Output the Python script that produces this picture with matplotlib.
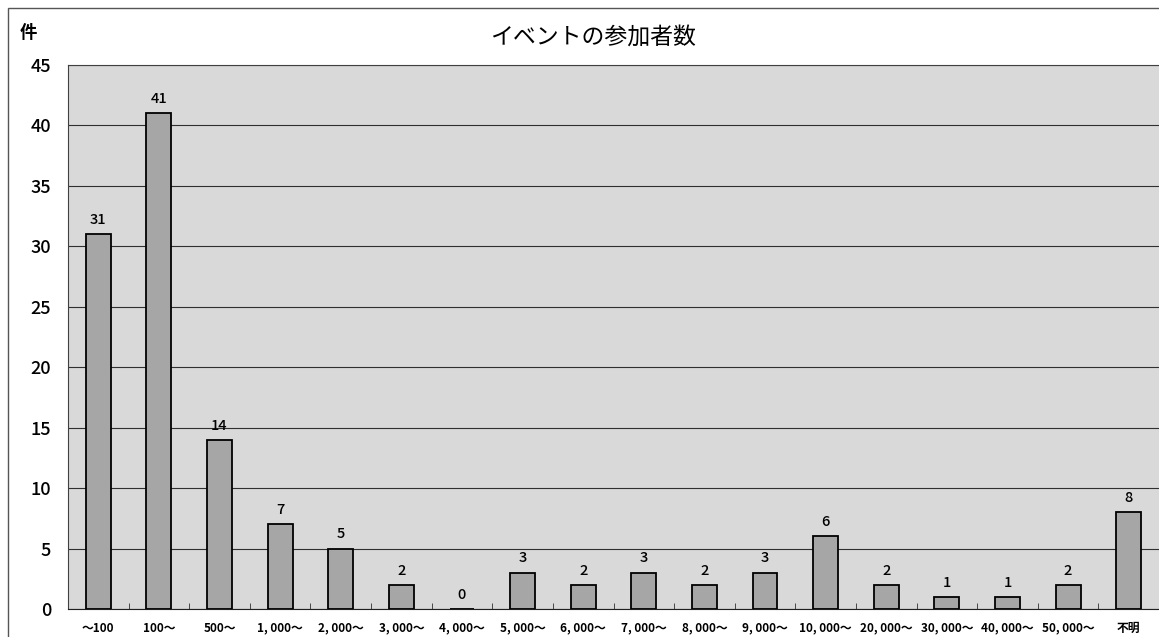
import matplotlib
matplotlib.use("Agg")
import matplotlib.pyplot as plt
from matplotlib.patches import Rectangle

plt.rcParams['font.family'] = ['Noto Sans CJK JP', 'DejaVu Sans']

# 参加者数の区分と件数
categories = ["～100", "100～", "500～", "1, 000～", "2, 000～", "3, 000～", "4, 000～",
              "5, 000～", "6, 000～", "7, 000～", "8, 000～", "9, 000～", "10, 000～",
              "20, 000～", "30, 000～", "40, 000～", "50, 000～", "不明"]
counts = [31, 41, 14, 7, 5, 2, 0, 3, 2, 3, 2, 3, 6, 2, 1, 1, 2, 8]
yticks = [0, 5, 10, 15, 20, 25, 30, 35, 40, 45]

fig = plt.figure(figsize=(11.59, 6.37), dpi=100)
ax = fig.add_axes([68 / 1159, 1 - 609 / 637, (1159 - 68) / 1159, (609 - 65) / 637])

ax.set_facecolor("#d9d9d9")
x = list(range(len(categories)))
ax.bar(x, counts, width=0.41, color="#a6a6a6", edgecolor="black", linewidth=1.3, zorder=3)

for xi, v in zip(x, counts):
    ax.text(xi, v + 0.6, str(v), ha="center", va="bottom", fontsize=10.5, fontweight="medium", zorder=4)

ax.set_xlim(-0.5, len(categories) - 0.5)
ax.set_ylim(0, 45)
ax.set_yticks(yticks)
ax.set_yticklabels([str(t) for t in yticks], fontsize=13, fontweight="medium")
ax.set_xticks(x)
ax.set_xticklabels(categories, fontsize=8.5, fontweight="bold")
ax.set_xticks([i + 0.5 for i in x[:-1]], minor=True)
ax.tick_params(axis="y", length=0, pad=12)
ax.tick_params(axis="x", which="major", length=0, pad=9)
ax.tick_params(axis="x", which="minor", direction="in", length=4, color="#303030")
ax.yaxis.grid(True, color="#303030", linewidth=0.8, zorder=1)
ax.set_axisbelow(True)

ax.spines["right"].set_visible(False)
ax.spines["top"].set_color("#404040")
ax.spines["left"].set_color("#404040")
ax.spines["bottom"].set_color("#202020")

# 見出しと単位
fig.text(593 / 1159, 1 - 37 / 637, "イベントの参加者数", ha="center", va="center", fontsize=16.5)
fig.text(20 / 1159, 1 - 33 / 637, "件", ha="left", va="center", fontsize=12.5, fontweight="bold")

# 外枠
fig.patches.append(Rectangle((8 / 1159, -0.01), 1.1, 1 - 8 / 637 + 0.01, transform=fig.transFigure,
                             fill=False, edgecolor="#555555", linewidth=1.0))

fig.savefig("out.png", dpi=100, facecolor="white")
